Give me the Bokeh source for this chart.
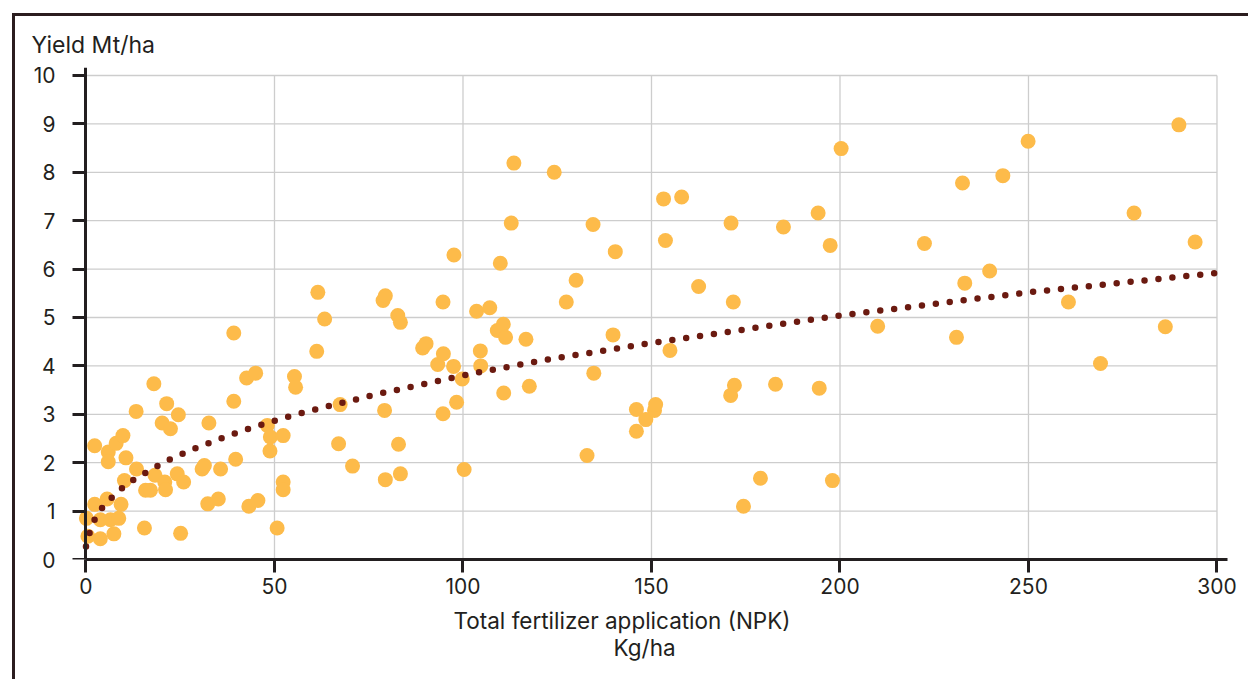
from bokeh.plotting import figure
from bokeh.models import FixedTicker, Range1d, LinearAxis, Title
from bokeh.embed import file_html
from bokeh.resources import INLINE

# Scatter data: total fertilizer application (kg/ha) vs yield (Mt/ha)
x_fert = [0.1, 0.5, 2.3, 2.3, 3.8, 3.8, 5.6, 5.9, 5.9, 6.5, 7.4, 8.0, 8.7, 9.3, 9.8,
          10.2, 10.6, 13.3, 13.4, 15.5, 15.8, 17.1, 18.0, 18.3, 20.2, 20.9, 21.1, 21.4,
          22.4, 24.2, 24.5, 25.1, 25.9, 30.8, 31.4, 32.3, 32.6, 35.1, 35.7, 39.2, 39.2,
          39.7, 42.6, 43.2, 45.0, 45.6, 48.1, 48.8, 48.9, 50.7, 52.3, 52.3, 52.3, 55.3,
          55.6, 61.2, 61.5, 63.3, 67.0, 67.4, 70.7, 78.8, 79.4, 79.2, 79.4, 82.7, 83.4,
          82.9, 83.4, 89.3, 90.2, 93.3, 94.7, 94.8, 94.7, 97.5, 97.6, 98.3, 99.8, 100.3,
          103.6, 104.6, 104.7, 107.1, 109.1, 109.9, 110.7, 110.8, 111.3, 112.8, 113.5,
          116.7, 117.6, 124.2, 127.4, 130.0, 132.9, 134.5, 134.7, 139.8, 140.4, 146.0,
          146.0, 148.5, 150.8, 151.1, 153.2, 153.7, 154.9, 158.0, 162.5, 171.1, 171.7,
          171.0, 172.0, 174.4, 178.9, 182.9, 185.0, 194.2, 194.5, 197.4, 198.0, 200.3,
          210.0, 222.4, 230.9, 232.5, 233.1, 239.7, 243.2, 249.9, 260.6, 269.1, 278.0,
          286.3, 289.9, 294.2]
y_yield = [0.85, 0.48, 2.35, 1.14, 0.43, 0.82, 1.25, 2.22, 2.02, 0.82, 0.53, 2.40, 0.85,
           1.14, 2.56, 1.63, 2.10, 3.06, 1.87, 0.65, 1.43, 1.43, 3.63, 1.74, 2.82, 1.60,
           1.44, 3.22, 2.70, 1.77, 2.99, 0.54, 1.60, 1.87, 1.94, 1.15, 2.82, 1.25, 1.87,
           3.27, 4.68, 2.07, 3.75, 1.10, 3.85, 1.22, 2.77, 2.24, 2.53, 0.65, 2.56, 1.60,
           1.44, 3.78, 3.56, 4.30, 5.52, 4.97, 2.39, 3.20, 1.93, 5.35, 5.45, 3.08, 1.65,
           5.04, 4.90, 2.38, 1.77, 4.37, 4.46, 4.03, 5.32, 4.25, 3.01, 3.99, 6.29, 3.25,
           3.73, 1.86, 5.13, 4.31, 4.00, 5.20, 4.73, 6.12, 4.86, 3.44, 4.59, 6.95, 8.19,
           4.55, 3.58, 8.00, 5.32, 5.77, 2.15, 6.92, 3.85, 4.64, 6.36, 3.10, 2.65, 2.89,
           3.08, 3.20, 7.45, 6.59, 4.32, 7.49, 5.64, 6.95, 5.32, 3.39, 3.60, 1.10, 1.68,
           3.62, 6.87, 7.16, 3.54, 6.49, 1.63, 8.49, 4.82, 6.53, 4.59, 7.78, 5.71, 5.96,
           7.93, 8.64, 5.32, 4.05, 7.16, 4.81, 8.98, 6.56]

# Trend curve
trend_x = [0, 0.9, 2.2, 4.1, 6.5, 9.2, 12.1, 15.1, 21.4, 28.1, 34.7, 41.4, 48.4, 55.3,
           62.3, 69.3, 76.3, 101.1, 122.3, 150.6, 200, 250, 300]
trend_y = [0.27, 0.54, 0.81, 1.05, 1.25, 1.45, 1.62, 1.76, 2.04, 2.27, 2.47, 2.66, 2.83,
           2.99, 3.13, 3.26, 3.40, 3.82, 4.13, 4.48, 5.04, 5.52, 5.92]

x_ticks = [0, 50, 100, 150, 200, 250, 300]
y_ticks = [0, 1, 2, 3, 4, 5, 6, 7, 8, 9, 10]

y_title = "Yield Mt/ha"
x_title_1 = "Total fertilizer application (NPK)"
x_title_2 = "Kg/ha"

FONT = "Inter"
INK = "#231F20"
ORANGE = "#FDBB4A"
MAROON = "#6B1A10"
GRID = "#CDCDCD"
FRAME = "#2B1D1F"

p = figure(frame_width=1157, frame_height=492,
           min_border_left=55, min_border_right=21, min_border_top=51, min_border_bottom=120,
           x_range=Range1d(-4.111, 302.79), y_range=Range1d(0, 10.165),
           title=y_title, output_backend="svg", toolbar_location=None, tools="")
p.styles = {"margin-left": "12px", "margin-top": "13px",
            "border-top": "3px solid " + FRAME, "border-left": "3px solid " + FRAME}
p.outline_line_color = None
p.background_fill_color = "white"
p.border_fill_color = "white"
p.xgrid.visible = False
p.ygrid.visible = False

p.title.align = "left"
p.title.offset = -39
p.title.standoff = 18
p.title.text_font = FONT
p.title.text_font_size = "23px"
p.title.text_font_style = "normal"
p.title.text_color = INK

# grid lines built from the tick lists
n_y = len(y_ticks)
n_x = len(x_ticks)
p.segment(x0=[x_ticks[0]] * n_y, y0=y_ticks, x1=[x_ticks[-1]] * n_y, y1=y_ticks,
          line_color=GRID, line_width=1.3)
p.segment(x0=x_ticks, y0=[y_ticks[0]] * n_x, x1=x_ticks, y1=[y_ticks[-1]] * n_x,
          line_color=GRID, line_width=1.3)

p.scatter(x_fert, y_yield, size=15, fill_color=ORANGE, line_color=None)
p.line(trend_x, trend_y, line_color=MAROON, line_width=6.5, line_dash="0 14",
       line_cap="round")

# x axis
xa = p.xaxis[0]
xa.ticker = FixedTicker(ticks=x_ticks)
xa.bounds = (0, 302.79)
xa.axis_line_color = INK
xa.axis_line_width = 3
xa.major_tick_line_color = INK
xa.major_tick_line_width = 3
xa.major_tick_out = 13
xa.major_tick_in = 0
xa.minor_tick_line_color = None
xa.major_label_text_font = FONT
xa.major_label_text_font_size = "21px"
xa.major_label_text_color = INK
xa.major_label_standoff = 5

# y axis: labels only (at the frame edge)
ya = p.yaxis[0]
ya.ticker = FixedTicker(ticks=y_ticks)
ya.axis_line_color = None
ya.major_tick_line_color = None
ya.major_tick_out = 0
ya.major_tick_in = 0
ya.minor_tick_line_color = None
ya.major_label_text_font = FONT
ya.major_label_text_font_size = "21px"
ya.major_label_text_color = INK
ya.major_label_standoff = 15

# y axis line and ticks, drawn at x = 0 (its labels are not drawn)
y_line = LinearAxis(fixed_location=0, ticker=FixedTicker(ticks=y_ticks),
                    axis_line_color=INK, axis_line_width=3,
                    major_tick_line_color=INK, major_tick_line_width=3,
                    major_tick_in=13, major_tick_out=0, minor_tick_line_color=None,
                    major_label_text_font_size="0px", major_label_text_color=None,
                    major_label_standoff=0)
p.add_layout(y_line, "right")

p.add_layout(Title(text=x_title_1, align="left", offset=383, standoff=17,
                   text_font=FONT, text_font_size="22.5px", text_font_style="normal",
                   text_color=INK), "below")
p.add_layout(Title(text=x_title_2, align="left", offset=543, standoff=-22,
                   text_font=FONT, text_font_size="22.5px", text_font_style="normal",
                   text_color=INK), "below")

open("out.html", "w").write(file_html(p, INLINE))
